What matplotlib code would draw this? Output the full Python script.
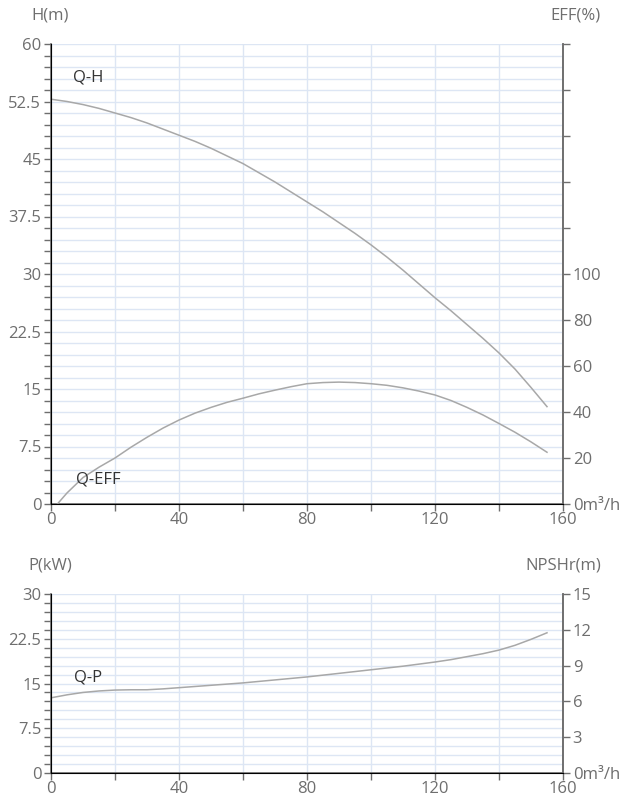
import matplotlib
matplotlib.use('Agg')
import matplotlib.pyplot as plt
import numpy as np

plt.rcParams['font.family'] = ['Open Sans', 'DejaVu Sans']

# flow (m3/h)
Q = [0, 5, 10, 15, 20, 25, 30, 35, 40, 45, 50, 55, 60, 65, 70, 75, 80,
     85, 90, 95, 100, 105, 110, 115, 120, 125, 130, 135, 140, 145, 150, 155]
H = [52.8, 52.5, 52.1, 51.6, 51.0, 50.4, 49.7, 48.9, 48.1, 47.3, 46.4, 45.4, 44.4, 43.2, 42.0, 40.7, 39.4,
     38.1, 36.7, 35.3, 33.8, 32.2, 30.5, 28.7, 26.9, 25.2, 23.4, 21.6, 19.7, 17.6, 15.2, 12.7]
P = [12.6, 13.1, 13.5, 13.75, 13.9, 13.95, 13.95, 14.1, 14.3, 14.5, 14.7, 14.9, 15.1, 15.35, 15.6, 15.85, 16.1,
     16.4, 16.7, 17.0, 17.3, 17.6, 17.9, 18.25, 18.6, 19.0, 19.5, 20.0, 20.6, 21.4, 22.4, 23.5]

Q_eff = [2, 5, 10, 15, 20, 25, 30, 35, 40, 45, 50, 55, 60, 65, 70, 75, 80,
         85, 90, 95, 100, 105, 110, 115, 120, 125, 130, 135, 140, 145, 150, 155]
EFF = [0, 4.8, 11.5, 16, 20, 24.7, 29, 33, 36.5, 39.5, 42, 44.2, 46, 47.9, 49.5, 51, 52.3,
       52.8, 53, 52.8, 52.3, 51.6, 50.5, 49.1, 47.4, 45, 42, 38.7, 35, 31.2, 27, 22.5]

txt = '#6e6e6e'
spine = '#6e6e6e'
grid = '#dde6f4'
curve = '#a8a8a8'
fs = 12

fig = plt.figure(figsize=(6.19, 8.0), dpi=100)

def style_x(ax):
    ax.set_xlim(0, 160)
    ax.set_xticks(np.arange(0, 161, 20))
    ax.set_xticklabels([str(v) if v % 40 == 0 else '' for v in range(0, 161, 20)])
    ax.grid(True, axis='x', color=grid, lw=1)
    ax.tick_params(axis='x', colors=spine, labelcolor=txt, labelsize=fs, length=5, width=1, pad=1)

def style_left(ax, top, step, lab_step):
    ax.set_ylim(0, top)
    ticks = np.arange(0, top + 0.01, step)
    ax.set_yticks(ticks)
    labs = []
    for t in ticks:
        if abs(t / lab_step - round(t / lab_step)) < 1e-6:
            labs.append('%g' % t)
        else:
            labs.append('')
    ax.set_yticklabels(labs)
    ax.grid(True, axis='y', color=grid, lw=1)
    ax.tick_params(axis='y', colors=spine, labelcolor=txt, labelsize=fs, length=5, width=1, pad=2)
    ax.spines['top'].set_visible(False)
    for s in ['left', 'bottom', 'right']:
        ax.spines[s].set_color(spine)
        ax.spines[s].set_linewidth(1.2)
    ax.set_axisbelow(True)

def style_right(ax):
    ax.tick_params(axis='y', colors=spine, labelcolor=txt, labelsize=fs, length=5, width=1, pad=2)
    ax.spines['top'].set_visible(False)
    ax.spines['right'].set_color(spine)
    ax.spines['right'].set_linewidth(1.2)

# ---- top chart: Q-H and Q-EFF
ax1 = fig.add_axes([51/619, 1-504/800, 512/619, 460/800])
style_x(ax1)
style_left(ax1, 60, 1.5, 7.5)
ax1.plot(Q, H, color=curve, lw=1.1)

ax1r = ax1.twinx()
ax1r.set_ylim(0, 200)
ax1r.set_yticks(np.arange(0, 201, 20))
ax1r.set_yticklabels(['0m³/h', '20', '40', '60', '80', '100', '', '', '', '', ''])
style_right(ax1r)
ax1r.plot(Q_eff, EFF, color=curve, lw=1.1)

fig.text(73/619, 1-78/800, 'Q-H', fontsize=fs, color='#333333', va='center')
fig.text(76/619, 1-480/800, 'Q-EFF', fontsize=fs, color='#333333', va='center')
fig.text(31/619, 1-16/800, 'H(m)', fontsize=fs, color=txt, va='center')
fig.text(601/619, 1-16/800, 'EFF(%)', fontsize=fs, color=txt, va='center', ha='right')

# ---- bottom chart: Q-P and NPSHr
ax2 = fig.add_axes([51/619, 1-773/800, 512/619, 179/800])
style_x(ax2)
style_left(ax2, 30, 1.5, 7.5)
ax2.plot(Q, P, color=curve, lw=1.1)

ax2r = ax2.twinx()
ax2r.set_ylim(0, 15)
ax2r.set_yticks(np.arange(0, 16, 3))
ax2r.set_yticklabels(['0m³/h', '3', '6', '9', '12', '15'])
style_right(ax2r)

fig.text(74/619, 1-678/800, 'Q-P', fontsize=fs, color='#333333', va='center')
fig.text(28/619, 1-566/800, 'P(kW)', fontsize=fs, color=txt, va='center')
fig.text(601/619, 1-566/800, 'NPSHr(m)', fontsize=fs, color=txt, va='center', ha='right')

fig.savefig('out.png', dpi=100)
